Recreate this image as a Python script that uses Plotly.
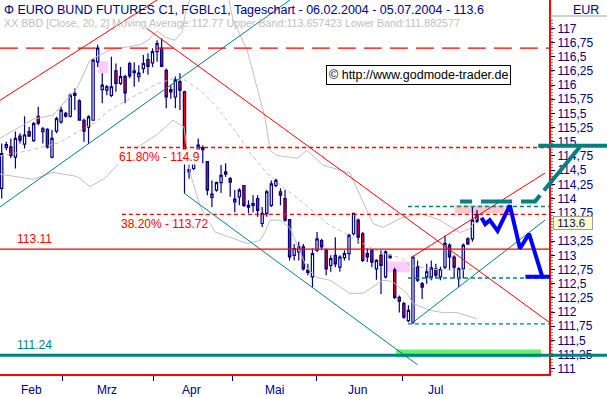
import plotly.graph_objects as go

# ---------------- data (trading-day index: 0 = 06.02.2004 ... 104 = 05.07.2004)
opens = [114.18,114.90,114.91,114.73,115.10,114.96,115.18,115.02,115.45,115.18,
         115.22,114.73,115.19,115.35,115.50,115.45,115.85,115.72,115.38,115.26,
         115.38,116.41,115.92,115.91,115.82,116.25,116.03,116.15,116.38,116.25,
         116.15,116.29,116.45,116.39,116.59,116.65,116.26,115.92,115.79,116.06,
         115.88,114.47,114.53,114.86,114.90,114.65,114.02,114.15,114.28,114.47,
         114.35,113.94,114.03,114.23,113.88,113.88,114.00,113.56,113.74,113.88,
         114.23,114.12,114.00,113.63,113.00,113.06,113.15,112.74,112.62,113.09,
         113.26,113.09,112.82,113.00,112.79,112.96,113.03,113.38,113.62,113.38,
         113.03,113.09,112.76,113.00,112.62,113.00,112.74,112.26,112.15,111.85,
         111.82,112.80,112.50,112.62,112.62,112.76,112.62,112.79,113.18,112.97,
         112.59,112.76,113.29,113.29,113.72]
highs = [114.97,115.00,115.06,115.18,115.15,115.45,115.26,115.35,115.62,115.26,
         115.24,115.21,115.44,115.62,115.53,115.85,115.94,115.75,115.41,115.47,
         116.47,116.71,116.21,116.00,116.50,116.38,116.32,116.18,116.41,116.40,
         116.35,116.53,116.56,116.65,116.79,116.82,116.29,116.00,116.15,116.21,
         115.90,114.62,114.85,115.06,114.94,114.66,114.32,114.30,114.59,114.62,
         114.38,114.15,114.18,114.23,113.97,114.06,114.06,113.85,114.15,114.32,
         114.35,114.18,114.15,113.63,113.20,113.24,113.20,112.85,113.12,113.41,
         113.29,113.12,113.00,113.32,113.00,113.09,113.38,113.74,113.65,113.41,
         113.12,113.09,112.93,113.09,113.09,113.02,112.78,112.29,112.18,112.12,
         112.98,112.91,112.53,112.85,112.91,112.85,112.80,113.35,113.21,113.00,
         112.79,113.21,113.32,113.86,113.80]
lows = [114.00,114.85,114.71,114.53,114.97,114.88,115.09,115.00,115.29,114.97,
        114.88,114.71,115.15,115.32,115.43,115.43,115.56,115.37,115.00,114.96,
        115.37,116.32,115.68,115.82,115.79,115.88,116.00,115.68,116.12,115.97,
        116.06,116.21,116.18,116.32,116.41,116.32,115.59,115.76,115.59,115.56,
        114.09,114.35,114.50,114.79,114.62,114.06,113.85,114.12,114.10,114.38,
        114.03,113.76,113.88,113.85,113.74,113.76,113.68,113.50,113.68,113.85,
        114.20,113.88,113.59,112.91,112.91,112.91,112.73,112.65,112.44,113.06,
        113.09,112.65,112.71,112.79,112.71,112.91,112.91,113.35,113.21,112.88,
        112.88,112.79,112.57,112.32,112.59,112.94,112.23,111.99,111.88,111.82,
        111.79,112.53,112.23,112.50,112.56,112.59,112.56,112.76,112.74,112.59,
        112.44,112.59,113.18,113.24,113.57]
closes = [114.79,114.95,114.76,115.06,115.03,115.12,115.10,115.32,115.33,115.23,
          114.91,115.06,115.41,115.56,115.45,115.82,115.82,115.38,115.19,115.44,
          116.44,116.65,116.00,115.97,115.97,116.03,116.15,115.86,116.16,116.22,
          116.21,116.38,116.33,116.59,116.73,116.33,115.79,115.88,116.09,115.91,
          114.62,114.51,114.76,114.94,114.86,114.15,114.08,114.28,114.41,114.43,
          114.29,113.99,114.15,113.88,113.85,113.91,113.79,113.74,114.12,114.26,
          114.32,114.06,113.62,112.97,113.12,113.15,112.76,112.70,113.03,113.29,
          113.15,112.76,112.94,112.85,112.97,113.03,113.35,113.74,113.32,112.91,
          112.97,112.88,112.91,112.82,113.06,112.96,112.26,112.19,111.91,112.03,
          112.97,112.56,112.44,112.71,112.78,112.65,112.75,113.21,112.97,112.79,
          112.76,113.18,113.20,113.62,113.60]

# Bollinger bands (20, 2) at the band's corners
bb_upper_x = [-0.37, 6.85, 11.23, 16.48, 19.32, 23.7, 30.26, 32.0, 33.98, 36.17, 37.92, 39.45, 40.32, 41.6,
              49.5, 50.61, 53.68, 56.52, 57.62, 58.71, 60.24, 64.62, 66.81, 70.31, 76.21, 79.94, 81.25,
              83.44, 87.16, 91.54, 95.91, 100.29, 102.47, 104.0]
bb_upper_y = [115.06, 115.40, 115.47, 115.95, 116.44, 116.62, 116.71, 116.79, 116.95, 116.83, 116.79, 116.93,
              117.32, 117.59, 117.59, 117.15, 116.62, 115.79, 115.43, 114.85, 114.76, 114.71, 114.85, 114.59,
              114.45, 113.79, 113.56, 113.49, 113.65, 113.74, 113.62, 113.40, 113.47, 113.66]
bb_mid_x = [-0.37, 6.19, 12.76, 17.13, 20.42, 23.7, 28.73, 33.98, 37.48, 40.11, 43.39, 47.11, 51.49, 54.33,
            58.05, 61.55, 65.27, 71.18, 74.02, 77.74, 83.44, 87.16, 89.35, 95.91, 100.95, 104.0]
bb_mid_y = [114.75, 114.85, 114.99, 115.20, 115.34, 115.56, 115.79, 116.02, 116.11, 116.09, 115.91, 115.61,
            115.15, 114.80, 114.45, 114.20, 113.97, 113.56, 113.44, 113.26, 113.03, 112.96, 112.82, 112.74,
            112.74, 112.77]
bb_lower_x = [-0.37, 6.85, 11.23, 16.48, 19.32, 22.6, 25.89, 30.26, 33.98, 37.48, 39.89, 41.2, 43.39, 46.67,
              50.61, 53.68, 56.52, 57.62, 58.71, 60.9, 63.09, 64.62, 66.81, 69.0, 71.84, 76.21, 79.06, 83.44,
              85.41, 88.69, 90.0, 93.72, 96.57, 99.63, 104.0]
bb_lower_y = [114.43, 114.34, 114.46, 114.39, 114.21, 114.36, 114.64, 114.93, 115.13, 115.38, 115.26, 114.46,
              113.87, 113.41, 113.30, 113.21, 113.26, 113.41, 113.62, 113.62, 113.48, 113.18, 112.77, 112.61,
              112.56, 112.33, 112.33, 112.56, 112.54, 112.33, 112.15, 112.03, 111.99, 111.99, 111.88]

# trend lines: (index, price) end points
red_up_left = ([-0.4, 34.0], [115.73, 117.50])
red_down = ([31.7, 119.8], [117.00, 111.82])
teal_up_left = ([-0.4, 63.1], [113.85, 117.50])
teal_down = ([40.0, 91.0], [114.09, 111.07])
red_up_right = ([89.8, 118.9], [112.97, 114.45])
teal_up_right = ([89.7, 118.9], [111.80, 113.62])

fib_levels = [116.65, 114.90, 113.72]
fib_texts = ["61.80% - 116.65", "61.80% - 114.9", "38.20% - 113.72"]
fib_starts = [-0.4, 25.9, 26.3]
support_red = 113.11
support_teal = 111.24
teal_dashed_levels = [113.86, 112.60, 111.79]

proj_x = [105.0, 105.8, 106.8, 108.5, 111.2, 113.4, 115.4, 118.3]
proj_y = [113.66, 113.55, 113.62, 113.43, 113.88, 113.12, 113.38, 112.62]
proj_base_x = [114.6, 120.0]
target_x = [100.3, 116.7, 126.5]
target_y = [113.95, 113.95, 114.91]
target_top = 114.93

month_labels = ["Feb", "Mrz", "Apr", "Mai", "Jun", "Jul"]
month_label_pos = [6.6, 23.1, 41.6, 59.6, 77.8, 95.0]
month_tick_pos = [13.4, 33.3, 50.6, 68.8, 87.8]

y_ticks = [111 + 0.25 * k for k in range(25)]

NAVY = "#000080"
RED = "#ff0000"
TEAL = "#008080"
GRAY = "#c0c0c0"
FONT = "Liberation Sans"

W, H = 607, 397
PLOT_R = 549
PLOT_B = 373.5
PX_PER_IDX = 4.57
X0 = -0.372
YMIN, YMAX = 110.917, 117.499

def px(xp):
    return xp / W

def py(yp):
    return 1 - yp / H

fig = go.Figure()
idx = list(range(len(opens)))

fig.add_trace(go.Scatter(x=bb_upper_x, y=bb_upper_y, mode="lines", line=dict(color=GRAY, width=1), hoverinfo="skip"))
fig.add_trace(go.Scatter(x=bb_lower_x, y=bb_lower_y, mode="lines", line=dict(color=GRAY, width=1), hoverinfo="skip"))
fig.add_trace(go.Scatter(x=bb_mid_x, y=bb_mid_y, mode="lines", line=dict(color=GRAY, width=1, dash="4px,3px"),
                         hoverinfo="skip"))

shapes = []
rects = [
    ((21.1, 23.3), (116.21, 116.42), "#ffccff"),
    ((84.3, 89.3), (112.70, 112.89), "#ffccff"),
    ((99.2, 110.1), (113.74, 113.88), "#ffc8c8"),
    ((86.3, 118.0), (111.20, 111.34), "#66f066"),
]
for (xa, xb), (ya, yb), c in rects:
    shapes.append(dict(type="rect", xref="x", yref="y", x0=xa, x1=xb, y0=ya, y1=yb,
                       fillcolor=c, line=dict(width=0), layer="below"))

for (xs, ys), col in [(red_up_left, RED), (red_down, RED), (red_up_right, RED),
                      (teal_up_left, TEAL), (teal_down, TEAL), (teal_up_right, TEAL)]:
    fig.add_trace(go.Scatter(x=xs, y=ys, mode="lines", line=dict(color=col, width=1), hoverinfo="skip"))

xend = X0 + PLOT_R / PX_PER_IDX
for i, (lvl, st) in enumerate(zip(fib_levels, fib_starts)):
    dash = "18px,8px" if i == 0 else "4px,3px"
    fig.add_trace(go.Scatter(x=[st, xend], y=[lvl, lvl], mode="lines",
                             line=dict(color=RED, width=1.3, dash=dash), hoverinfo="skip"))
fig.add_trace(go.Scatter(x=[X0, xend], y=[support_red, support_red], mode="lines",
                         line=dict(color=RED, width=1.3), hoverinfo="skip"))
for lvl in teal_dashed_levels:
    fig.add_trace(go.Scatter(x=[88.9, xend], y=[lvl, lvl], mode="lines",
                             line=dict(color=TEAL, width=1.3, dash="4px,3px"), hoverinfo="skip"))

fig.add_trace(go.Candlestick(x=idx, open=opens, high=highs, low=lows, close=closes,
                             increasing=dict(line=dict(color=NAVY, width=1.2), fillcolor="white"),
                             decreasing=dict(line=dict(color=NAVY, width=1.2), fillcolor=RED),
                             whiskerwidth=0, hoverinfo="skip"))

# overlay subplot spanning the whole width (for lines reaching into the axis area)
o = dict(xaxis="x2", yaxis="y2", hoverinfo="skip", mode="lines")
fig.add_trace(go.Scatter(x=[X0, xend + 20], y=[support_teal, support_teal],
                         line=dict(color=TEAL, width=3), **o))
fig.add_trace(go.Scatter(x=target_x, y=target_y,
                         line=dict(color=TEAL, width=4, dash="12px,9px,31px,9px,22px,6px,80px"), **o))
fig.add_trace(go.Scatter(x=[117.4, 140], y=[target_top, target_top], line=dict(color=TEAL, width=4), **o))
fig.add_trace(go.Scatter(x=proj_x, y=proj_y, line=dict(color="#0000ff", width=4), **o))
fig.add_trace(go.Scatter(x=proj_base_x, y=[proj_y[-1]] * 2, line=dict(color="#0000ff", width=4), **o))

annotations = []
for i, (lvl, st, txt) in enumerate(zip(fib_levels, fib_starts, fib_texts)):
    annotations.append(dict(x=st, y=lvl, xref="x", yref="y", text=txt, showarrow=False,
                            xanchor="left", yanchor="top", yshift=-2, xshift=-2,
                            bgcolor="white" if i > 0 else None, borderpad=0,
                            font=dict(family=FONT, size=12, color=RED)))
annotations.append(dict(x=3, y=support_red, xref="x", yref="y", text="113.11", showarrow=False,
                        xanchor="left", yanchor="bottom", yshift=1,
                        font=dict(family=FONT, size=12, color=RED)))
annotations.append(dict(x=3, y=support_teal, xref="x", yref="y", text="111.24", showarrow=False,
                        xanchor="left", yanchor="bottom", yshift=1,
                        font=dict(family=FONT, size=12, color=TEAL)))
annotations.append(dict(x=px(2), y=py(1), xref="paper", yref="paper", xanchor="left", yanchor="top",
                        text="\u03a6 EURO BUND FUTURES C1, FGBLc1, Tageschart - 06.02.2004 - 05.07.2004 - 113.6",
                        showarrow=False, font=dict(family=FONT, size=12.5, color=NAVY)))
annotations.append(dict(x=px(2), y=py(15), xref="paper", yref="paper", xanchor="left", yanchor="top",
                        text="XX BBD [Close, 20, 2] Moving Average:112.77 Upper Band:113.657423 Lower Band:111.882577",
                        showarrow=False, font=dict(family=FONT, size=10.7, color=GRAY)))
annotations.append(dict(x=px(601), y=py(1), xref="paper", yref="paper", xanchor="right", yanchor="top",
                        text="EUR", showarrow=False, font=dict(family=FONT, size=12.5, color=NAVY)))
annotations.append(dict(x=px(418.5), y=py(74.5), xref="paper", yref="paper", xanchor="center", yanchor="middle",
                        text="\u00a9 http://www.godmode-trader.de", showarrow=False,
                        bordercolor="black", borderwidth=1, bgcolor="white", borderpad=2,
                        font=dict(family=FONT, size=12.5, color="black")))
annotations.append(dict(x=px(553), y=closes[-1], xref="paper", yref="y", xanchor="left", yanchor="middle",
                        text="\u00a0113.6\u00a0\u00a0", showarrow=False, bgcolor="#ffffcc", bordercolor="#a0a0a0",
                        yshift=-2, borderwidth=1, borderpad=0, font=dict(family=FONT, size=11.5, color=NAVY)))
for lab, pos in zip(month_labels, month_label_pos):
    annotations.append(dict(x=pos, y=py(PLOT_B), xref="x", yref="paper", text=lab, showarrow=False,
                            yanchor="top", yshift=-7, font=dict(family=FONT, size=12, color=NAVY)))

shapes.append(dict(type="line", xref="paper", yref="paper", x0=px(550), x1=1, y0=py(16), y1=py(16),
                   line=dict(color="#a0a0a0", width=1)))
shapes.append(dict(type="line", xref="paper", yref="paper", x0=px(552), x1=px(552), y0=py(372), y1=py(18),
                   line=dict(color=NAVY, width=1, dash="1px,2px")))

dom_y = [py(PLOT_B), 1]
fig.update_layout(
    width=W, height=H, margin=dict(l=0, r=0, t=0, b=0),
    paper_bgcolor="white", plot_bgcolor="rgba(0,0,0,0)", showlegend=False,
    shapes=shapes, annotations=annotations,
    xaxis=dict(range=[X0, xend], domain=[0, px(PLOT_R)], showgrid=False, zeroline=False, showline=True,
               linecolor=RED, linewidth=2, tickvals=[], rangeslider=dict(visible=False), automargin=False,
               minor=dict(tickvals=month_tick_pos, ticks="outside", ticklen=5, tickcolor=NAVY, tickwidth=1)),
    yaxis=dict(range=[YMIN, YMAX], side="right", showgrid=False, zeroline=False, showline=True,
               linecolor=RED, linewidth=2, tickvals=[v for v in y_ticks if abs(v - 113.5) > 0.01],
               ticktext=[("%g" % v).replace(".", ",") for v in y_ticks if abs(v - 113.5) > 0.01],
               ticks="outside", ticklen=4, tickcolor=NAVY, automargin=False,
               tickfont=dict(family=FONT, size=12, color=NAVY), domain=dom_y),
    xaxis2=dict(range=[X0, X0 + W / PX_PER_IDX], domain=[0, 1], visible=False, anchor="y2"),
    yaxis2=dict(range=[YMIN, YMAX], domain=dom_y, visible=False, anchor="x2"),
)
fig.write_html("out.html")
